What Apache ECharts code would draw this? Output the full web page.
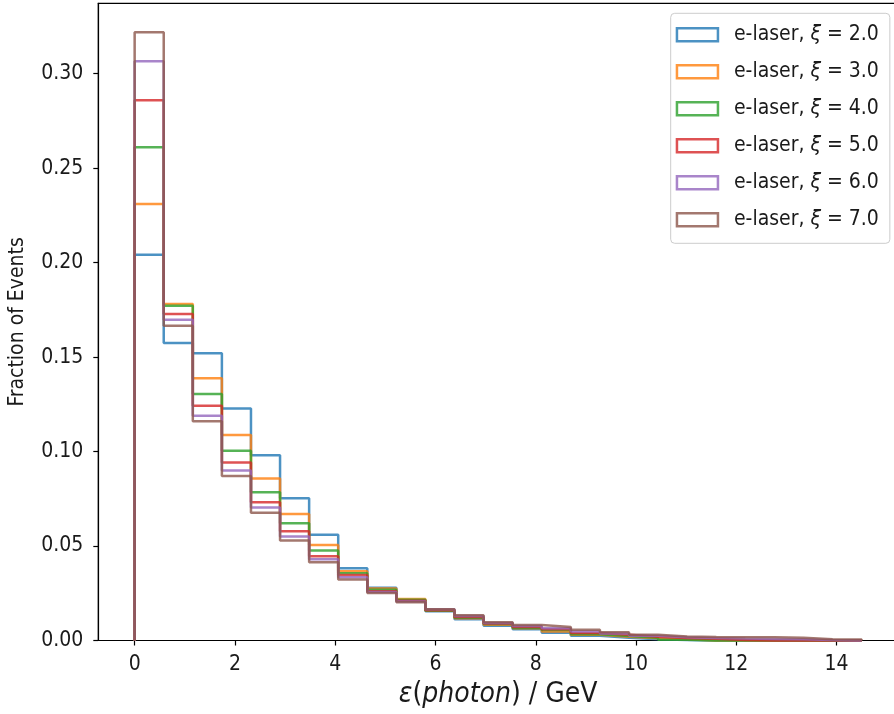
<!DOCTYPE html>
<html>
<head>
<meta charset="utf-8">
<script src="https://cdn.jsdelivr.net/npm/echarts@6/dist/echarts.min.js"></script>
<style>
html,body{margin:0;padding:0;background:#fff;}
#chart{width:894px;height:714px;}
</style>
</head>
<body>
<div id="chart"></div>
<script>
// Bin edges (GeV)
const binEdges = [0, 0.58, 1.16, 1.74, 2.32, 2.9, 3.48, 4.06, 4.64, 5.22, 5.8, 6.38, 6.96, 7.54, 8.12, 8.7, 9.28, 9.86, 10.44, 11.02, 11.6, 12.18, 12.76, 13.34, 13.92, 14.5];
const xiLabels = ['2.0', '3.0', '4.0', '5.0', '6.0', '7.0'];
const fracXi2 = [0.2042, 0.1575, 0.1520, 0.1228, 0.0980, 0.0753, 0.0559, 0.0383, 0.0279, 0.0212, 0.0155, 0.0112, 0.0078, 0.0060, 0.0041, 0.0025, 0.0015, 0.0006, 0.0002, 0, 0, 0, 0, 0, 0];
const fracXi3 = [0.2310, 0.1781, 0.1388, 0.1088, 0.0857, 0.0670, 0.0506, 0.0367, 0.0275, 0.0220, 0.0157, 0.0118, 0.0083, 0.0065, 0.0048, 0.0030, 0.0020, 0.0012, 0.0007, 0, 0, 0, 0, 0, 0];
const fracXi4 = [0.2610, 0.1772, 0.1305, 0.1004, 0.0785, 0.0621, 0.0476, 0.0356, 0.0268, 0.0215, 0.0158, 0.0120, 0.0087, 0.0066, 0.0055, 0.0033, 0.0024, 0.0015, 0.0004, 0, 0, 0, 0, 0, 0];
const fracXi5 = [0.2859, 0.1728, 0.1242, 0.0942, 0.0732, 0.0578, 0.0446, 0.0346, 0.0261, 0.0210, 0.0160, 0.0125, 0.0090, 0.0072, 0.0060, 0.0040, 0.0030, 0.0020, 0.0013, 0.0009, 0.0003, 0, 0, 0, 0];
const fracXi6 = [0.3065, 0.1697, 0.1189, 0.0899, 0.0704, 0.0550, 0.0430, 0.0335, 0.0257, 0.0207, 0.0166, 0.0130, 0.0093, 0.0077, 0.0065, 0.0048, 0.0037, 0.0025, 0.0017, 0.0013, 0.0010, 0.0008, 0.0006, 0.0002, 0];
const fracXi7 = [0.3219, 0.1665, 0.1160, 0.0871, 0.0676, 0.0529, 0.0414, 0.0323, 0.0252, 0.0203, 0.0165, 0.0133, 0.0097, 0.0082, 0.0072, 0.0057, 0.0043, 0.0030, 0.0021, 0.0018, 0.0017, 0.0017, 0.0015, 0.0006, 0.0005];
const xTicks = [0, 2, 4, 6, 8, 10, 12, 14];
const yTicks = [0, 0.05, 0.10, 0.15, 0.20, 0.25, 0.30];

const allFracs = [fracXi2, fracXi3, fracXi4, fracXi5, fracXi6, fracXi7];
const colors = ['#1f77b4', '#ff7f0e', '#2ca02c', '#d62728', '#9467bd', '#8c564b'];
const FONT = '"DejaVu Sans Condensed", "DejaVu Sans", sans-serif';
const TXT = '#1a1a1a';

function stepData(vals) {
  const d = [[binEdges[0], 0]];
  for (let i = 0; i < vals.length; i++) d.push([binEdges[i], vals[i]]);
  d.push([binEdges[binEdges.length - 1], 0]);
  return d;
}

const names = xiLabels.map(x => 'e-laser, ξ = ' + x);
const series = allFracs.map((vals, i) => ({
  name: names[i],
  type: 'line',
  step: 'end',
  data: stepData(vals),
  showSymbol: false,
  symbol: 'none',
  lineStyle: { color: colors[i], width: 2.5, opacity: 0.8 },
  itemStyle: { color: colors[i] },
  clip: false,
  z: 2 + i
}));

const chart = echarts.init(document.getElementById('chart'), null, { renderer: 'canvas' });
chart.setOption({
  animation: false,
  backgroundColor: '#fff',
  textStyle: { fontFamily: FONT },
  grid: { left: 98.3, top: 3.3, height: 637.2, width: 799.7, outerBoundsMode: 'none', containLabel: false, show: true, borderColor: '#000', borderWidth: 1.2, backgroundColor: 'transparent' },
  legend: {
    orient: 'vertical',
    left: 670.7,
    top: 13.3,
    padding: [11, 11, 13, 5],
    itemGap: 16,
    itemWidth: 41,
    itemHeight: 13,
    borderColor: '#cccccc',
    borderWidth: 1,
    borderRadius: 4,
    backgroundColor: 'rgba(255,255,255,0.8)',
    data: names.map((n, i) => ({
      name: n,
      icon: 'rect',
      itemStyle: { color: '#fff', borderColor: colors[i], borderWidth: 2.5, opacity: 0.8 }
    })),
    formatter: function (name) {
      const x = name.split('= ')[1];
      return '{a|e-laser, }{i|ξ}{a| = ' + x + '}';
    },
    textStyle: {
      fontFamily: FONT,
      color: TXT,
      padding: [0, 0, 0, 11],
      rich: {
        a: { fontFamily: FONT, fontSize: 21, color: TXT },
        i: { fontFamily: FONT, fontSize: 21, fontStyle: 'italic', color: TXT }
      }
    }
  },
  xAxis: {
    type: 'value',
    min: -0.725,
    max: 15.225,
    name: '{i|ε}{a|(}{i|photon}{a|) / GeV}',
    nameLocation: 'middle',
    nameGap: 36,
    nameTextStyle: {
      rich: {
        a: { fontFamily: FONT, fontSize: 28, color: TXT },
        i: { fontFamily: FONT, fontSize: 28, fontStyle: 'italic', color: TXT }
      }
    },
    splitLine: { show: false },
    axisLine: { show: true, onZero: false, lineStyle: { color: '#000', width: 1.2 } },
    axisTick: { show: true, inside: false, length: 5, customValues: xTicks, lineStyle: { color: '#000', width: 1.2 } },
    axisLabel: { customValues: xTicks, fontFamily: FONT, fontSize: 21, color: TXT, margin: 14, formatter: v => String(v) }
  },
  yAxis: {
    type: 'value',
    min: 0,
    max: 0.3372,
    name: 'Fraction of Events',
    nameLocation: 'middle',
    nameGap: 70,
    nameTextStyle: { fontFamily: FONT, fontSize: 21, color: TXT },
    splitLine: { show: false },
    axisLine: { show: true, onZero: false, lineStyle: { color: '#000', width: 1.2 } },
    axisTick: { show: true, inside: false, length: 5, customValues: yTicks, lineStyle: { color: '#000', width: 1.2 } },
    axisLabel: { customValues: yTicks, fontFamily: FONT, fontSize: 21, color: TXT, margin: 15, formatter: v => v.toFixed(2) }
  },
  series: series
});
</script>
</body>
</html>
